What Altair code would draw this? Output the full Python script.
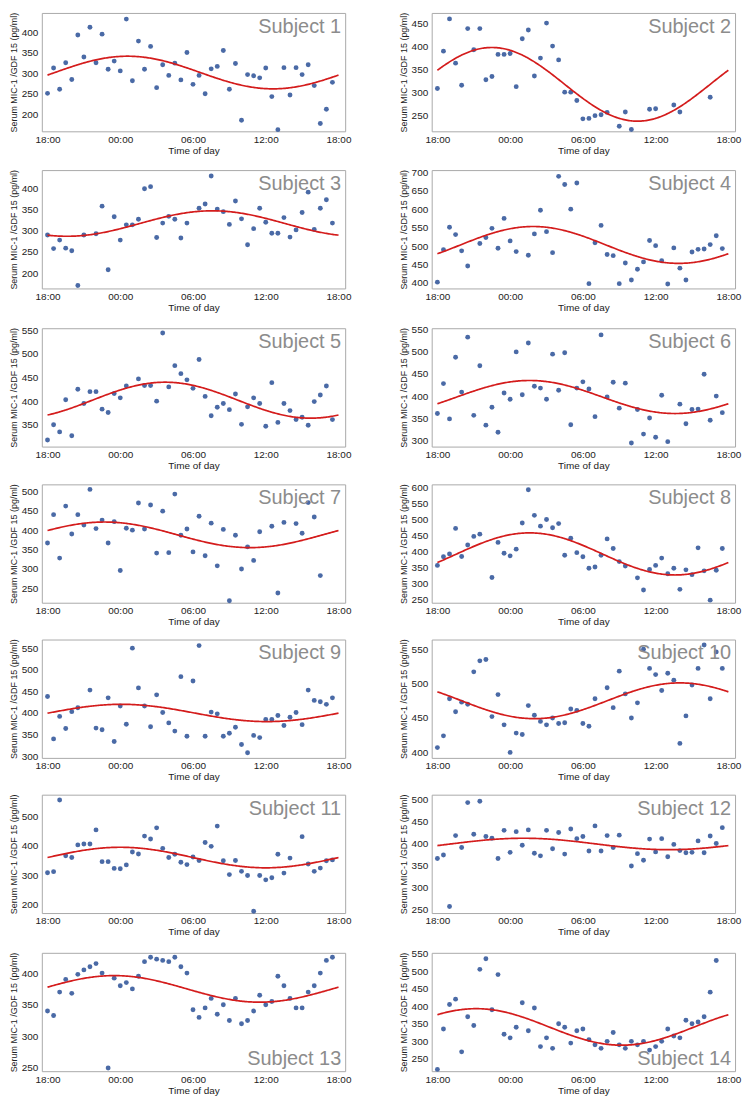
import altair as alt
import pandas as pd

# sampling times, hours after 18:00
HOURS = [0.0, 0.5, 1.0, 1.5, 2.0, 2.5, 3.0, 3.5, 4.0, 4.5, 5.0, 5.5,
         6.0, 6.5, 7.0, 7.5, 8.0, 8.5, 9.0, 9.5, 10.0, 10.5, 11.0, 11.5,
         12.0, 12.5, 13.0, 13.5, 14.0, 14.5, 15.0, 15.5, 16.0, 16.5, 17.0, 17.5,
         18.0, 18.5, 19.0, 19.5, 20.0, 20.5, 21.0, 21.5, 22.0, 22.5, 23.0, 23.5]
TICK_HOURS = [0, 6, 12, 18, 24]
TICK_LABELS = ["18:00", "00:00", "06:00", "12:00", "18:00"]

N = None
S1 = [251, 313, 261, 326, 285, 394, 340, 413, 326, 396, 310, 330, 306, 433, 282, 379,
      310, 366, 265, 321, 295, 325, 284, 351, 273, 295, 250, 311, 317, 356, 261, 324,
      185, 297, 294, 289, 313, 243, 162, 314, 247, 314, 297, 321, 270, 177, 212, 278]
S2 = [308, 389, 459, 363, 315, 438, 392, 438, 327, 334, 382, 382, 384, 312, 416, 435,
      335, 374, 450, 400, 370, 300, 300, 282, 242, 243, 249, 251, 256, N, 226, 257,
      219, N, N, 263, 264, N, N, 272, 257, N, N, N, N, 289, N, N]
S3 = [290, 258, 278, 259, 253, 171, 290, N, 293, 358, 208, 333, 278, 314, 314, 327,
      399, 404, 284, 318, 334, 327, 283, 318, N, 353, 363, 429, 351, 345, 315, 370,
      328, 267, 305, 353, 320, 294, 294, 331, 285, 302, 343, 391, 303, 353, 373, 318]
S4 = [402, 490, 551, 531, 487, 446, N, 507, 523, 548, 494, 575, 514, 485, N, 475,
      533, 597, 539, 482, 689, 667, 600, 671, N, 398, 509, 556, 477, 474, 398, 454,
      408, 437, 457, 515, 501, 460, 397, 495, 440, 408, 484, 491, 492, 504, 528, 493]
S5 = [318, 350, 335, 403, 327, 425, 395, 420, 420, 383, 376, 416, 407, 432, N, 447,
      433, 433, 400, 544, 430, 475, 458, 445, 427, 488, 410, 369, 387, 395, 382, 415,
      351, 388, 407, 395, 347, 439, 355, 395, 380, 361, 366, 349, 399, 413, 432, 361]
S6 = [361, 428, 349, 487, 409, 532, 357, 468, 335, 375, 319, 407, 393, 499, 403, 519,
      422, 418, 393, 494, 413, 497, 336, 418, 432, 416, 354, 537, 398, 431, 373, 429,
      295, 370, 315, 351, 308, 402, 298, N, 382, 338, 370, 371, 449, 346, 400, 363]
S7 = [367, 440, 328, 462, 390, 440, 413, 505, 404, 426, 367, 422, 296, 405, 400, 470,
      403, 465, 341, 449, 342, 493, 387, 403, 344, 436, 334, 418, 308, 402, 218, 387,
      300, 357, 322, 396, N, 410, 238, 420, N, 417, 392, 471, 434, 283, N, N]
S8 = [356, 383, 392, 472, 384, 420, 447, 454, N, 318, 428, 394, 386, 407, 489, 593,
      513, 479, 500, 474, 487, 388, 441, 396, 383, 347, 351, 388, 439, 409, 368, 354,
      N, 317, 279, 343, 356, 379, 330, 347, 281, 342, 327, 411, 339, 247, 341, 409]
S9 = [438, 340, 392, 364, 403, 412, N, 453, 365, 361, 435, 334, 416, 374, 550, 458,
      416, 368, 442, 401, 377, 358, 484, 346, 474, 556, 346, 402, 398, 346, 353, 367,
      327, 308, 348, 343, 385, 385, 394, 371, 390, 401, 373, 453, 429, 426, 420, 435]
S10 = [407, 424, 478, 459, 473, 470, 517, 533, 535, 452, 484, 440, 400, 428, 426, 468,
       454, 445, 440, 450, 442, 443, 463, 461, 442, 438, 478, N, 494, 465, 518, 485,
       450, 472, 550, 522, 513, 490, 515, 505, 413, 453, 498, 522, 556, 478, 546, 522]
S11 = [308, 312, 556, 366, 360, 403, 406, 406, 454, 346, 346, 323, 322, 335, 379, 372,
       433, 423, 461, 391, 360, 371, 344, 336, 362, 350, 411, 398, 467, 349, 302, 350,
       313, 299, 177, 299, 284, 291, 371, 307, 358, N, 431, 338, 313, 324, 349, 352]
S12 = [365, 373, 256, 417, 390, 492, 420, 495, 415, 411, 365, 429, 379, 426, 395, 430,
       377, 371, 429, 387, 424, 375, 432, 410, 415, 382, 439, 382, 417, 390, 418, N,
       348, 376, 361, 409, 380, 410, 369, 397, 383, 378, 379, 405, 378, 416, 399, 435]
S13 = [340, 333, 370, 390, 368, 398, 405, 410, 415, 400, 250, 392, 380, 385, 375, 395,
       418, 425, 422, 420, 418, 425, 410, 400, 342, 330, 345, 360, 335, 350, 325, 360,
       320, 325, 340, 365, 350, 355, 395, 380, 360, 345, 345, 370, 380, 400, 420, 425]
S14 = [220, 335, 405, 420, 270, 370, 345, 505, 535, 390, 490, 320, 310, 340, 410, 330,
       395, 285, 310, 280, 350, 340, 295, 330, 335, 305, 290, 280, 300, 325, 290, 280,
       300, 290, 300, 275, 285, 300, 335, 315, 310, 360, 350, 355, 370, 440, 530, N]
SUBJECTS = [S1, S2, S3, S4, S5, S6, S7, S8, S9, S10, S11, S12, S13, S14]
LABELS = ["Subject 1", "Subject 2", "Subject 3", "Subject 4", "Subject 5", "Subject 6",
          "Subject 7", "Subject 8", "Subject 9", "Subject 10", "Subject 11", "Subject 12",
          "Subject 13", "Subject 14"]

# fitted cosinor parameters
MESOR = [302, 317, 317, 503, 402, 398, 388, 392, 400, 475, 360, 398, 375, 341]
AMPLITUDE = [40, 80, 30, 50, 38, 37, 33, 66, 20, 26, 35, 13, 21, 52]
PEAK_HOUR = [6.6, 4.5, 13.6, 7.9, 9.7, 7.6, 4.7, 7.6, 6.1, 20.0, 6.0, 7.1, 5.5, 3.2]

Y_DOMAIN = [[158, 448], [215, 472], [164, 443], [385, 706], [304, 554], [287, 552],
            [213, 518], [239, 610], [296, 570], [392, 564], [171, 574], [241, 510],
            [245, 432], [215, 552]]
Y_STEP = [50, 50, 50, 50, 50, 50, 50, 50, 50, 50, 100, 50, 50, 50]
LABEL_AT_BOTTOM = [False] * 12 + [True, True]

W, H = 305, 119
FONT = "Liberation Sans"
NARROW = "Liberation Sans Narrow, Liberation Sans, Arial, sans-serif"
PT_COLOR = "#4a6aa6"
LINE_COLOR = "#d41c1c"

label_expr = "[" + ",".join(f"'{s}'" for s in TICK_LABELS) + "][datum.value / 6]"


def panel(i):
    df = pd.DataFrame({"t": HOURS, "v": SUBJECTS[i]}).dropna()
    lo, hi = Y_DOMAIN[i]
    step = Y_STEP[i]
    ticks = [v for v in range(0, 1000, step) if lo <= v <= hi]
    x = alt.X("t:Q", scale=alt.Scale(domain=[-0.47, 24.55], nice=False, zero=False),
              axis=alt.Axis(values=TICK_HOURS, labelExpr=label_expr, title="Time of day"))
    y = alt.Y("v:Q", scale=alt.Scale(domain=[lo, hi], nice=False, zero=False),
              axis=alt.Axis(values=ticks, title="Serum MIC-1 /GDF 15 (pg/ml)"))
    pts = alt.Chart(df).mark_circle(size=24, color=PT_COLOR, opacity=1).encode(x=x, y=y)
    curve = (
        alt.Chart(alt.sequence(0, 24.01, 0.1, as_="t"))
        .transform_calculate(
            v=f"{MESOR[i]} + {AMPLITUDE[i]} * cos(2 * PI * (datum.t - {PEAK_HOUR[i]}) / 24)"
        )
        .mark_line(color=LINE_COLOR, strokeWidth=1.7)
        .encode(x=x, y=y)
    )
    ypos = H - 6 if LABEL_AT_BOTTOM[i] else 20
    label = (
        alt.Chart(pd.DataFrame({"s": [LABELS[i]]}))
        .mark_text(align="right", baseline="alphabetic", font=FONT, fontSize=20, color="#8c8c8c")
        .encode(x=alt.value(W - 4), y=alt.value(ypos), text="s:N")
    )
    return alt.layer(pts, curve, label).properties(width=W, height=H)


rows = []
for r in range(7):
    rows.append(alt.hconcat(panel(2 * r), panel(2 * r + 1), spacing=46))

chart = (
    alt.vconcat(*rows, spacing=10)
    .properties(padding=0)
    .configure_view(stroke="#a9a9a9", strokeWidth=1)
    .configure_axis(grid=False, domain=False, ticks=False,
                    labelFont=FONT, labelFontSize=10, labelColor="#222222",
                    titleFont=FONT, titleFontWeight="normal", titleColor="#222222")
    .configure_axisY(titleFont=NARROW, titleFontSize=9, titlePadding=3, labelPadding=4)
    .configure_axisX(titleFontSize=10, titlePadding=1, labelPadding=3)
)

chart.save("out.html", embed_options={"renderer": "svg", "actions": False})
